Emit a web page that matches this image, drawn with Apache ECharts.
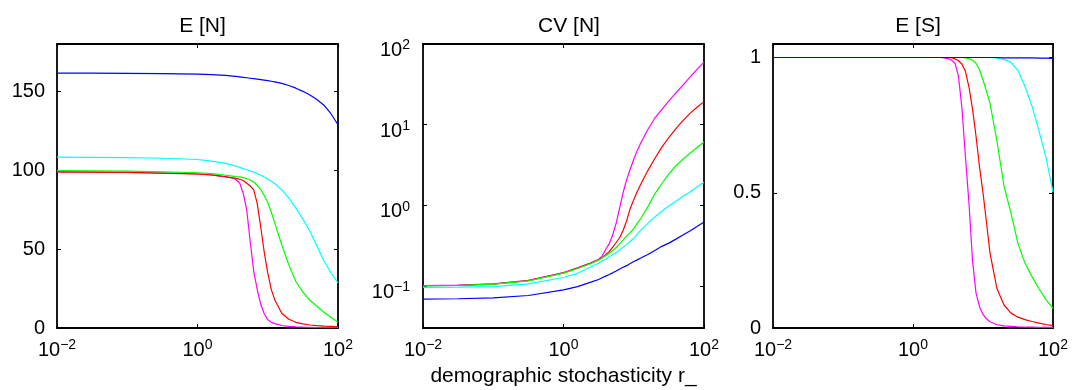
<!DOCTYPE html>
<html>
<head>
<meta charset="utf-8">
<script src="https://cdn.jsdelivr.net/npm/echarts@6/dist/echarts.min.js"></script>
<style>
html,body{margin:0;padding:0;background:#fff}
#main{width:1072px;height:390px}
</style>
</head>
<body>
<div id="main"></div>
<script>
// demographic stochasticity r_ (x, log spaced)
var rVals = [0.01, 0.03162, 0.1, 0.3162, 1, 1.585, 2.512, 3.162, 3.548, 3.981, 4.467, 5.012, 5.623, 6.310, 7.079, 7.943, 8.913, 10, 11.22, 12.59, 15.85, 19.95, 25.12, 31.62, 39.81, 50.12, 63.10, 79.43, 100];

// E [N]
var enBlue = [161.5, 161.5, 161.4, 161.2, 160.9, 160.6, 160.1, 159.7, 159.5, 159.2, 158.9, 158.6, 158.3, 158.0, 157.7, 157.4, 157.1, 156.8, 156.4, 156.0, 155.0, 153.7, 152.0, 150.0, 147.7, 144.8, 141.2, 135.8, 128.8];
var enCyan = [108.3, 108.2, 108.0, 107.6, 106.8, 105.8, 104.3, 103.2, 102.5, 101.8, 101.0, 100.3, 99.5, 98.8, 97.8, 96.8, 95.7, 94.5, 93.0, 91.5, 87.5, 82.3, 76.0, 69.0, 61.3, 52.0, 42.5, 35.0, 28.5];
var enGreen = [99.7, 99.6, 99.4, 99.0, 98.4, 97.8, 96.8, 96.3, 96.0, 95.8, 95.3, 94.6, 93.8, 92.5, 90.5, 87.7, 84.0, 79.5, 73.5, 66.5, 52.6, 40.0, 29.5, 22.7, 17.6, 13.8, 10.0, 6.8, 3.6];
var enRed = [98.9, 98.8, 98.6, 98.2, 97.6, 97.0, 95.9, 95.2, 94.8, 94.3, 93.5, 91.8, 90.0, 87.5, 79.0, 64.0, 48.0, 35.0, 24.5, 17.8, 9.3, 5.5, 3.6, 2.6, 1.9, 1.5, 1.2, 1.0, 0.8];
var enMagenta = [98.9, 98.8, 98.6, 98.2, 97.6, 97.0, 95.7, 95.2, 94.0, 91.9, 85.6, 75.0, 55.0, 36.0, 24.5, 15.0, 9.0, 5.3, 3.6, 2.8, 1.6, 1.0, 0.7, 0.5, 0.4, 0.3, 0.25, 0.2, 0.2];

// CV [N]
var cvBlue = [0.0684, 0.0692, 0.0708, 0.0759, 0.0891, 0.0977, 0.112, 0.120, 0.126, 0.132, 0.138, 0.145, 0.153, 0.162, 0.170, 0.178, 0.189, 0.200, 0.210, 0.221, 0.245, 0.275, 0.309, 0.339, 0.380, 0.427, 0.479, 0.543, 0.621];
var cvCyan = [0.0955, 0.0962, 0.098, 0.106, 0.127, 0.143, 0.174, 0.191, 0.204, 0.214, 0.229, 0.243, 0.259, 0.279, 0.302, 0.327, 0.355, 0.389, 0.437, 0.490, 0.596, 0.716, 0.841, 0.977, 1.12, 1.29, 1.46, 1.68, 1.93];
var cvGreen = [0.100, 0.101, 0.105, 0.115, 0.144, 0.164, 0.191, 0.209, 0.221, 0.237, 0.254, 0.275, 0.299, 0.331, 0.372, 0.417, 0.457, 0.513, 0.596, 0.684, 0.955, 1.38, 1.86, 2.45, 3.09, 3.72, 4.42, 5.19, 6.10];
var cvRed = [0.1005, 0.1016, 0.1052, 0.116, 0.145, 0.166, 0.193, 0.211, 0.224, 0.243, 0.266, 0.302, 0.345, 0.398, 0.490, 0.646, 0.912, 1.17, 1.48, 1.82, 2.69, 3.80, 5.25, 6.92, 8.91, 11.2, 13.8, 16.4, 19.3];
var cvMagenta = [0.101, 0.102, 0.106, 0.117, 0.146, 0.167, 0.194, 0.214, 0.234, 0.282, 0.331, 0.427, 0.600, 0.930, 1.45, 2.09, 2.82, 3.70, 4.79, 5.90, 8.71, 12.0, 15.5, 19.7, 24.7, 30.9, 38.9, 48.4, 59.7];

// E [S]
var esBlue = [1, 1, 1, 1, 1, 1, 1, 1, 1, 1, 1, 1, 1, 1, 1, 1, 1, 1, 1, 1, 1, 0.999, 0.999, 0.999, 0.999, 0.999, 0.998, 0.998, 0.997];
var esCyan = [1, 1, 1, 1, 1, 1, 1, 1, 1, 1, 1, 1, 1, 1, 1, 1, 1, 1, 1, 1, 0.998, 0.993, 0.982, 0.952, 0.893, 0.82, 0.728, 0.63, 0.502];
var esGreen = [1, 1, 1, 1, 1, 1, 1, 1, 1, 1, 1, 1, 0.999, 0.996, 0.99, 0.979, 0.955, 0.917, 0.875, 0.83, 0.69, 0.525, 0.425, 0.312, 0.24, 0.19, 0.145, 0.105, 0.073];
var esRed = [1, 1, 1, 1, 1, 1, 1, 1, 0.999, 0.995, 0.988, 0.975, 0.948, 0.89, 0.81, 0.71, 0.596, 0.5, 0.39, 0.277, 0.145, 0.085, 0.055, 0.04, 0.031, 0.024, 0.018, 0.013, 0.009];
var esMagenta = [1, 1, 1, 1, 1, 1, 1, 0.996, 0.99, 0.979, 0.93, 0.81, 0.63, 0.46, 0.25, 0.13, 0.079, 0.05, 0.034, 0.023, 0.012, 0.008, 0.006, 0.004, 0.003, 0.003, 0.002, 0.002, 0.002];

var titles = ['E [N]', 'CV [N]', 'E [S]'];
var xName = 'demographic stochasticity r_';

var font = "'Liberation Sans', Arial, Helvetica, sans-serif";
var chart = echarts.init(document.getElementById('main'));

// 10^n labels with superscript
function powLabel(v) {
  var e = Math.log10(v);
  var n = Math.round(e);
  if (Math.abs(e - n) > 0.01) return '';
  return '{b|10}{s|' + (n < 0 ? '\u2212' + (-n) : n) + '}';
}
var powRich = {
  b: { fontSize: 20, lineHeight: 22, verticalAlign: 'bottom', color: '#000', fontFamily: font },
  s: { fontSize: 14, lineHeight: 14, verticalAlign: 'top', color: '#000', fontFamily: font }
};

var grids = [
  { left: 57, top: 44, width: 281, height: 284 },
  { left: 423, top: 44, width: 281, height: 284 },
  { left: 773, top: 44, width: 280, height: 284 }
];

var axLine = { show: true, onZero: false, lineStyle: { color: '#000', width: 1.8 } };
var axTick = { show: true, inside: true, length: 4, lineStyle: { color: '#000', width: 1 } };

var xAxes = [], yAxes = [];
grids.forEach(function (g, i) {
  ['bottom', 'top'].forEach(function (pos) {
    xAxes.push({
      type: 'log', gridIndex: i, position: pos, min: 0.01, max: 100, interval: 2,
      axisLine: axLine, axisTick: axTick, splitLine: { show: false },
      axisLabel: { show: pos === 'bottom', margin: 10, formatter: powLabel, rich: powRich },
      name: (i === 1 && pos === 'bottom') ? xName : '',
      nameLocation: 'middle', nameGap: 38,
      nameTextStyle: { fontSize: 21, color: '#000', fontFamily: font }
    });
  });
});

function linY(i, max, step, fmt) {
  return ['left', 'right'].map(function (pos) {
    return {
      type: 'value', gridIndex: i, position: pos, min: 0, max: max, interval: step,
      axisLine: axLine, axisTick: axTick, splitLine: { show: false },
      axisLabel: { show: pos === 'left', margin: 12, fontSize: 20, color: '#000', fontFamily: font, formatter: fmt }
    };
  });
}
yAxes = yAxes.concat(linY(0, 180, 50, function (v) { return v % 50 === 0 ? String(v) : ''; }));
['left', 'right'].forEach(function (pos) {
  yAxes.push({
    type: 'log', gridIndex: 1, position: pos, min: 0.03, max: 100,
    axisLine: axLine, axisTick: axTick, splitLine: { show: false },
    axisLabel: { show: pos === 'left', margin: 13, padding: [11, 0, 0, 0], formatter: powLabel, rich: powRich }
  });
});
yAxes = yAxes.concat(linY(2, 1.05, 0.5, function (v) {
  return (v === 0 || v === 0.5 || v === 1) ? String(v) : '';
}));

function line(gi, ys, color) {
  return {
    type: 'line', xAxisIndex: gi * 2, yAxisIndex: gi * 2,
    data: rVals.map(function (r, k) { return [r, ys[k]]; }),
    symbol: 'none', showSymbol: false, silent: true,
    lineStyle: { color: color, width: 1.2 }, itemStyle: { color: color }
  };
}

var panels = [
  [enMagenta, enRed, enGreen, enCyan, enBlue],
  [cvMagenta, cvRed, cvGreen, cvCyan, cvBlue],
  [esMagenta, esRed, esGreen, esCyan, esBlue]
];
var colors = ['#ff00ff', '#ff0000', '#00ff00', '#00ffff', '#0000ff'];

var series = [];
panels.forEach(function (p, gi) {
  p.forEach(function (ys, k) { series.push(line(gi, ys, colors[k])); });
});

var centers = [197.5, 564, 913];
chart.setOption({
  animation: false,
  textStyle: { fontFamily: font },
  title: titles.map(function (t, i) {
    return { text: t, left: centers[i], top: 11, textAlign: 'center',
      textStyle: { fontSize: 21, fontWeight: 'normal', color: '#000', fontFamily: font } };
  }),
  grid: grids.map(function (g) { return Object.assign({ outerBoundsMode: 'none', containLabel: false }, g); }),
  xAxis: xAxes,
  yAxis: yAxes,
  series: series
});
</script>
</body>
</html>
